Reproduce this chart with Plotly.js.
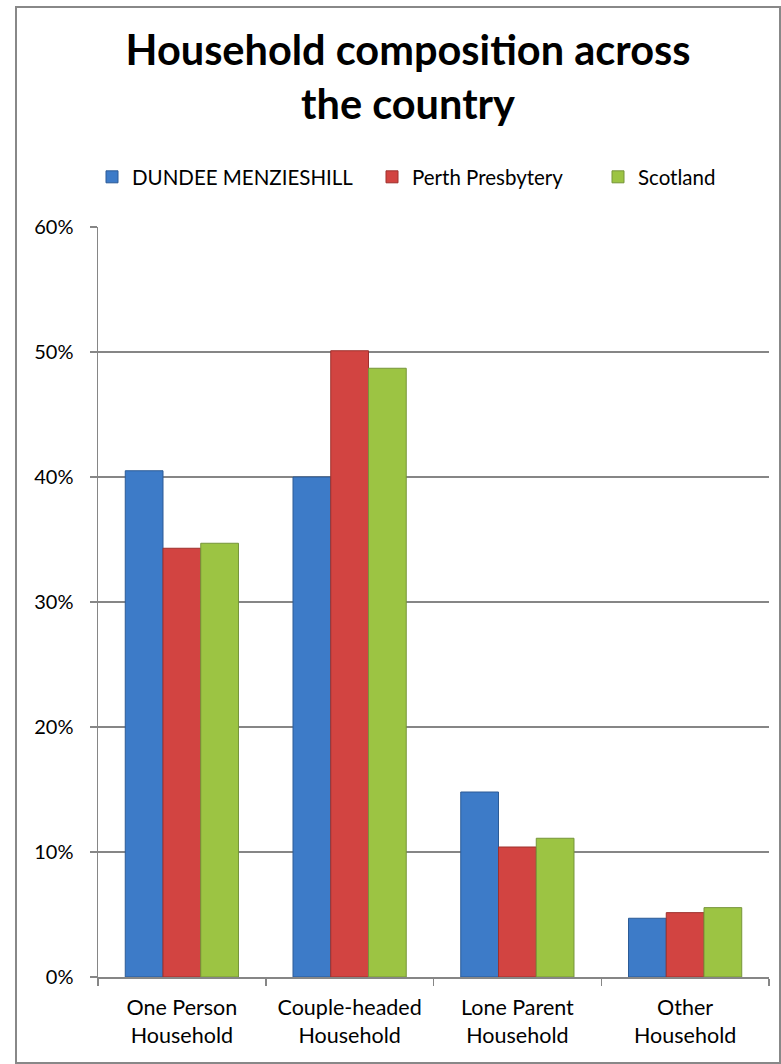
<!DOCTYPE html>
<html>
<head>
<meta charset="utf-8">
<script src="https://cdn.plot.ly/plotly-3.0.1.min.js"></script>
<style>
html,body{margin:0;padding:0;background:#fff;}
#chart{width:781px;height:1064px;}
</style>
</head>
<body>
<div id="chart"></div>
<script>
var categories = ["One Person<br>Household", "Couple-headed<br>Household", "Lone Parent<br>Household", "Other<br>Household"];
var seriesNames = ["DUNDEE MENZIESHILL", "Perth Presbytery", "Scotland"];
var dundee = [0.405, 0.400, 0.148, 0.047];
var perth = [0.343, 0.501, 0.104, 0.0515];
var scotland = [0.347, 0.487, 0.111, 0.0555];
var yTickValues = [0, 0.1, 0.2, 0.3, 0.4, 0.5, 0.6];
var yTickLabels = ["0%", "10%", "20%", "30%", "40%", "50%", "60%"];

var fillColors = ["#3D7BC8", "#D24441", "#9CC443"];
var edgeColors = ["#2C5B96", "#9E302D", "#76953A"];
var values = [dundee, perth, scotland];
var legendIds = ["legend", "legend2", "legend3"];
var legendLeft = [92, 372, 598];

var FONT = "Lato, 'Open Sans', sans-serif";
var W = 781, H = 1064;

var traces = values.map(function (v, i) {
  return {
    type: "bar",
    name: seriesNames[i],
    x: categories,
    y: v,
    legend: legendIds[i],
    marker: {color: fillColors[i], line: {color: edgeColors[i], width: 1}},
    hoverinfo: "skip"
  };
});

var layout = {
  width: W,
  height: H,
  margin: {l: 98, r: 12, t: 227, b: 87},
  paper_bgcolor: "#ffffff",
  plot_bgcolor: "#ffffff",
  font: {family: FONT, size: 20, color: "#000000"},
  title: {
    text: "<b>Household composition across<br>the country</b>",
    font: {family: FONT, size: 41.5, color: "#000000"},
    x: 408 / W, xanchor: "center", xref: "container",
    y: 1 - 65 / H, yanchor: "top", yref: "container"
  },
  showlegend: true,
  barmode: "group",
  bargap: 0.325,
  bargroupgap: 0,
  xaxis: {
    type: "category",
    showgrid: false,
    showline: true, linecolor: "#868686", linewidth: 1.5,
    ticks: "outside", tickson: "boundaries", ticklen: 7, tickcolor: "#868686", tickwidth: 1.5,
    ticklabelstandoff: 11,
    tickfont: {family: FONT, size: 21.5, color: "#000000"},
    fixedrange: true
  },
  yaxis: {
    range: [0, 0.6],
    tickvals: yTickValues,
    ticktext: yTickLabels,
    showgrid: true, gridcolor: "#868686", gridwidth: 1.5,
    showline: true, linecolor: "#868686", linewidth: 1.5,
    ticks: "outside", ticklen: 7, tickcolor: "#868686", tickwidth: 1.5,
    ticklabelstandoff: 12,
    zeroline: false,
    tickfont: {family: FONT, size: 20, color: "#000000"},
    fixedrange: true
  },
  shapes: [{
    type: "rect", xref: "paper", yref: "paper",
    x0: (16 - 98) / 671, x1: (780 - 98) / 671,
    y0: -(1063 - 977) / 750, y1: 1 + (227 - 7) / 750,
    line: {color: "#888888", width: 2}, fillcolor: "rgba(0,0,0,0)", layer: "below"
  }]
};

legendIds.forEach(function (id, i) {
  layout[id] = {
    orientation: "h",
    x: legendLeft[i] / W, xanchor: "left", xref: "container",
    y: 1 - 177 / H, yanchor: "middle", yref: "container",
    font: {family: FONT, size: 20.5, color: "#000000"},
    bgcolor: "rgba(0,0,0,0)",
    itemclick: false, itemdoubleclick: false
  };
});

Plotly.newPlot("chart", traces, layout, {displayModeBar: false, staticPlot: true});
</script>
</body>
</html>
